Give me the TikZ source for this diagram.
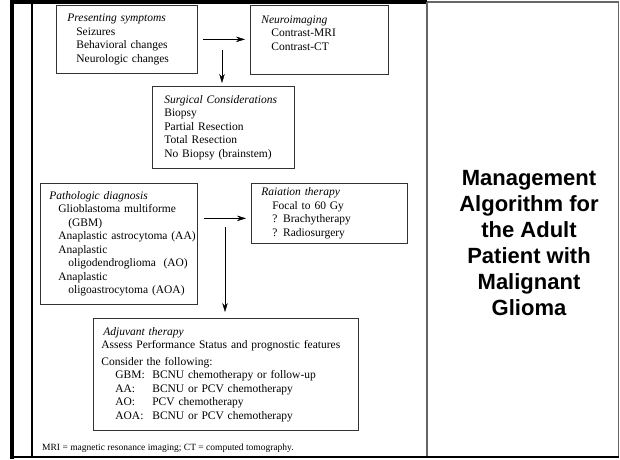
\documentclass[tikz,border=0pt]{standalone}
\usepackage{fontspec}
\setmainfont{Liberation Serif}
\newfontfamily\titlefont{Liberation Sans}
\usetikzlibrary{arrows.meta}

\tikzset{
  algbox/.style={draw=black!80, line width=0.7pt, anchor=north west, align=left,
    inner ysep=0pt, font=\fontsize{11.5}{13.5}\selectfont},
}

\begin{document}
\begin{tikzpicture}[x=1pt, y=-1pt, >={Stealth[length=9pt,width=5.5pt]}]
    \useasboundingbox (0,0) rectangle (620,459);
    % Frame
    \draw[line width=3.5pt] (10,2) -- (427,2);
    \draw[line width=3.5pt] (11.75,0) -- (11.75,459);
    \draw[line width=1.2pt] (32,2) -- (32,457);
    \draw[black!60, line width=1.5pt] (427,2) -- (618.5,2) -- (618.5,457);
    \draw[black!60, line width=1.2pt] (427,2) -- (427,457);
    \draw[line width=1.5pt] (10,457) -- (619,457);
    % Nodes
    \node[algbox, inner xsep=11pt, text width=119pt, minimum height=68pt] (pres) at (56,5)
      {\textit{Presenting symptoms}\\
       \hspace*{9pt}Seizures\\
       \hspace*{9pt}Behavioral changes\\
       \hspace*{9pt}Neurologic changes};
    \node[algbox, inner xsep=11pt, text width=116pt, minimum height=69pt] (neuro) at (250,5)
      {\textit{Neuroimaging}\\
       \hspace*{10pt}Contrast-MRI\\
       \hspace*{10pt}Contrast-CT\\
       \mbox{}};
    \node[algbox, inner xsep=12pt, text width=118pt, minimum height=82pt] (surg) at (152,86)
      {\textit{Surgical Considerations}\\
       Biopsy\\
       Partial Resection\\
       Total Resection\\
       No Biopsy (brainstem)};
    \node[algbox, inner xsep=9pt, text width=139pt, minimum height=121pt] (patho) at (40,183)
      {\textit{Pathologic diagnosis}\\
       \hspace*{9pt}Glioblastoma multiforme\\
       \hspace*{19pt}(GBM)\\
       \hspace*{9pt}\mbox{Anaplastic astrocytoma (AA)}\\
       \hspace*{9pt}Anaplastic\\
       \hspace*{19pt}\mbox{oligodendroglioma\ \ (AO)}\\
       \hspace*{9pt}Anaplastic\\
       \hspace*{19pt}\mbox{oligoastrocytoma (AOA)}};
    \node[algbox, inner xsep=10pt, text width=136pt, minimum height=60pt] (rad) at (251,183)
      {\textit{Raiation therapy}\\
       \hspace*{11pt}Focal to 60 Gy\\
       \hspace*{11pt}? Brachytherapy\\
       \hspace*{11pt}? Radiosurgery};
    \node[algbox, inner xsep=8pt, text width=249pt, minimum height=112pt] (adj) at (93,318)
      {\hspace*{2pt}\textit{Adjuvant therapy}\\
       Assess Performance Status and prognostic features\\[3pt]
       Consider the following:\\
       \hspace*{14pt}\makebox[37pt][l]{GBM:}BCNU chemotherapy or follow-up\\
       \hspace*{14pt}\makebox[37pt][l]{AA:}BCNU or PCV chemotherapy\\
       \hspace*{14pt}\makebox[37pt][l]{AO:}PCV chemotherapy\\
       \hspace*{14pt}\makebox[37pt][l]{AOA:}BCNU or PCV chemotherapy};
    \node[font=\titlefont\bfseries\fontsize{22}{26}\selectfont, align=center] (title) at (529,243)
      {Management\\Algorithm for\\the Adult\\Patient with\\Malignant\\Glioma};
    \node[anchor=base west, inner sep=0pt, font=\fontsize{9.5}{11}\selectfont] (note) at (42,450)
      {MRI = magnetic resonance imaging; CT = computed tomography.};
    % Arrows connecting the nodes
    \coordinate (split1) at (222,50);
    \coordinate (split2) at (225,227);
    \coordinate (radin) at ([yshift=-5pt]rad.west);
    \draw[->, shorten <=5pt, shorten >=5pt] (pres.east) -- (pres.east -| neuro.west);
    \draw[->, shorten >=3pt] (split1) -- (split1 |- surg.north);
    \draw[->, shorten <=6pt, shorten >=5pt] (patho.east |- radin) -- (radin);
    \draw[->, shorten >=6pt] (split2) -- (split2 |- adj.north);
\end{tikzpicture}
\end{document}
